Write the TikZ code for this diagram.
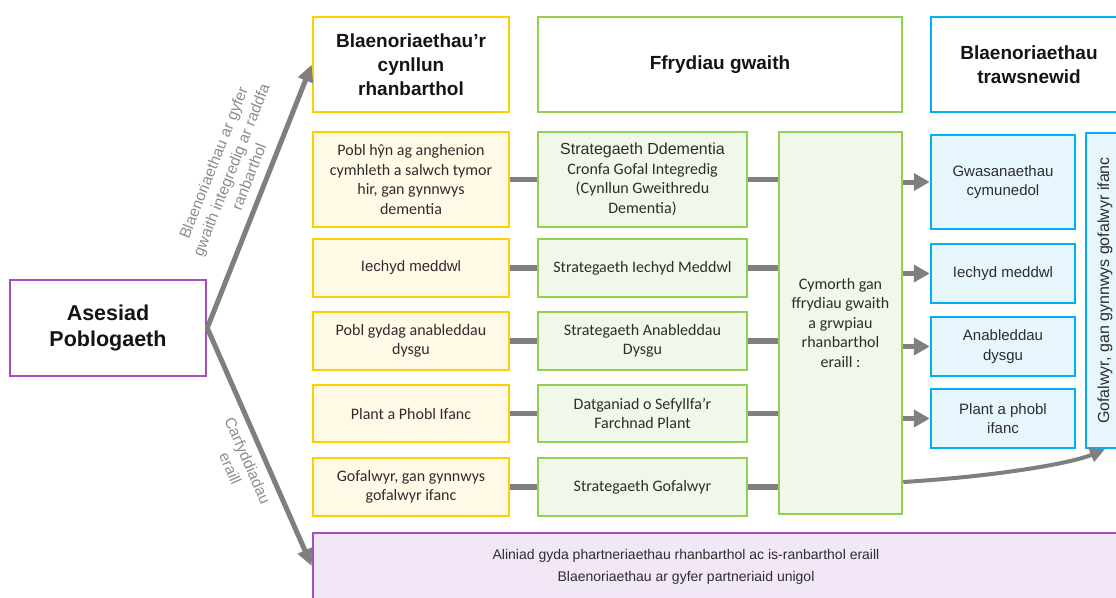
\documentclass[tikz,border=0pt]{standalone}
\usepackage{fontspec}
\setmainfont{Liberation Sans}
\newfontfamily\carl{Carlito}
\newfontfamily\lib{Liberation Sans}
\usetikzlibrary{arrows.meta,calc}
\definecolor{ybord}{RGB}{255,208,0}
\definecolor{yfill}{RGB}{255,249,230}
\definecolor{gbord}{RGB}{146,208,80}
\definecolor{gfill}{RGB}{242,247,235}
\definecolor{bbord}{RGB}{0,176,240}
\definecolor{bfill}{RGB}{230,246,252}
\definecolor{pbord}{RGB}{166,77,192}
\definecolor{pfill}{RGB}{242,231,247}
\definecolor{agray}{RGB}{127,127,127}
\definecolor{txt}{RGB}{45,45,45}
\definecolor{htxt}{RGB}{20,20,20}
\definecolor{lblgray}{RGB}{140,140,140}
\begin{document}
\begin{tikzpicture}[x=1pt,y=-1pt,
  box/.style={draw, line width=2.5pt, align=center, inner sep=0pt, text=txt},
  ybox/.style={box, draw=ybord, fill=yfill, minimum width=196pt, font=\carl\fontsize{16}{19.5}\selectfont},
  gbox/.style={box, draw=gbord, fill=gfill, minimum width=209pt, font=\carl\fontsize{16}{19.5}\selectfont},
  bbox/.style={box, draw=bbord, fill=bfill, minimum width=144pt, font=\lib\fontsize{15}{19.3}\selectfont},
  headfont/.style={font=\lib\bfseries\fontsize{19}{24}\selectfont, text=htxt},
  yhead/.style={box, draw=ybord, fill=white, minimum width=196pt, minimum height=95pt, headfont},
  ghead/.style={box, draw=gbord, fill=white, minimum width=364pt, minimum height=95pt, headfont},
  bhead/.style={box, draw=bbord, fill=white, minimum width=196pt, minimum height=95pt, headfont},
  conn/.style={draw=agray, line width=5.5pt},
  sarrow/.style={draw=agray, line width=5pt, -{Triangle[length=16pt,width=17pt]}, fill=agray},
  barrow/.style={draw=agray, line width=5pt, -{Triangle[length=17pt,width=15pt]}, fill=agray},
  carrow/.style={draw=agray, line width=4pt, -{Triangle[length=15pt,width=14pt]}},
  lbl/.style={text=lblgray, font=\lib\fontsize{15.5}{19}\selectfont, align=center, inner sep=0pt}
]
\useasboundingbox (0,0) rectangle (1116,597);
\clip (0,0) rectangle (1116,597);

% Asesiad
\node[box, draw=pbord, fill=white, minimum width=196pt, minimum height=96pt,
      font=\lib\bfseries\fontsize{21.5}{26}\selectfont, text=htxt] (ases) at (108,328) {Asesiad\\Poblogaeth};

% headers
\node[yhead] (yh) at (411,64.5) {Blaenoriaethau’r\\cynllun\\rhanbarthol};
\node[ghead] (gh) at (720,64.5) {Ffrydiau gwaith};
\node[bhead] (bh) at (1029,64.5) {Blaenoriaethau\\trawsnewid};

% yellow rows
\node[ybox, minimum height=95pt] (y1) at (411,179.5) {Pobl hŷn ag anghenion\\cymhleth  a salwch tymor\\hir, gan gynnwys\\dementia};
\node[ybox, minimum height=58pt, font=\lib\fontsize{15}{19}\selectfont] (y2) at (411,268) {Iechyd  meddwl};
\node[ybox, minimum height=58pt] (y3) at (411,341) {Pobl gydag anableddau\\dysgu};
\node[ybox, minimum height=57pt] (y4) at (411,413.5) {Plant a Phobl Ifanc};
\node[ybox, minimum height=58pt] (y5) at (411,487) {Gofalwyr, gan gynnwys\\gofalwyr ifanc};

% green rows
\node[gbox, minimum height=95pt] (g1) at (642.5,179.5) {{\lib\fontsize{16}{19.5}\selectfont Strategaeth Ddementia}\\Cronfa Gofal Integredig\\(Cynllun Gweithredu\\Dementia)};
\node[gbox, minimum height=58pt] (g2) at (642.5,268) {Strategaeth Iechyd Meddwl};
\node[gbox, minimum height=58pt] (g3) at (642.5,341) {Strategaeth Anableddau\\Dysgu};
\node[gbox, minimum height=57pt] (g4) at (642.5,413.5) {Datganiad o Sefyllfa’r\\Farchnad Plant};
\node[gbox, minimum height=58pt] (g5) at (642.5,487) {Strategaeth Gofalwyr};

% tall green
\node[gbox, minimum width=123pt, minimum height=382pt] (tall) at (840.5,323) {Cymorth  gan\\ffrydiau gwaith\\a grwpiau\\rhanbarthol\\eraill :};

% blue rows
\node[bbox, minimum height=94pt] (b1) at (1003,182) {Gwasanaethau\\cymunedol};
\node[bbox, minimum height=59pt] (b2) at (1003,273.5) {Iechyd  meddwl};
\node[bbox, minimum height=59pt] (b3) at (1003,346.5) {Anableddau\\dysgu};
\node[bbox, minimum height=59pt] (b4) at (1003,418.5) {Plant a phobl\\ifanc};
\node[bbox, minimum width=38pt, minimum height=315pt] (vert) at (1105,290.5) {};
\node[rotate=90, text=txt, font=\lib\fontsize{16}{19}\selectfont, inner sep=0pt] (verttext) at (vert.center) {Gofalwyr, gan gynnwys  gofalwyr ifanc};

% bottom purple
\node[box, draw=pbord, fill=pfill, minimum width=817pt, minimum height=66pt] (pb) at (721.5,566) {};
\node[align=center, text=txt, font=\lib\fontsize{14}{22}\selectfont, inner sep=0pt] (pbtext) at (686,567) {Aliniad gyda phartneriaethau  rhanbarthol  ac is-ranbarthol  eraill\\Blaenoriaethau ar gyfer  partneriaid unigol};

% connectors
\foreach \i in {1,...,5} {
  \draw[conn] (y\i) -- (g\i);
  \draw[conn] (g\i) -- (g\i -| tall.west);
}
\foreach \i in {1,...,4} {
  \draw[sarrow] (tall.east |- b\i) -- (b\i);
}
\draw[carrow] ($(tall.east |- g5.center)+(0,-5)$) .. controls (1000,476) and (1072,463) .. (vert.south);

\draw[barrow] (ases.east) -- (yh.west)
  node[lbl, sloped, above=9pt, pos=0.55] (lab1) {Blaenoriaethau ar gyfer\\gwaith integredig ar raddfa\\ranbarthol};
\draw[barrow] (ases.east) -- (pb.west)
  node[lbl, sloped, below=8pt, pos=0.53] (lab2) {Carfyddiadau\\eraill};
\end{tikzpicture}
\end{document}
